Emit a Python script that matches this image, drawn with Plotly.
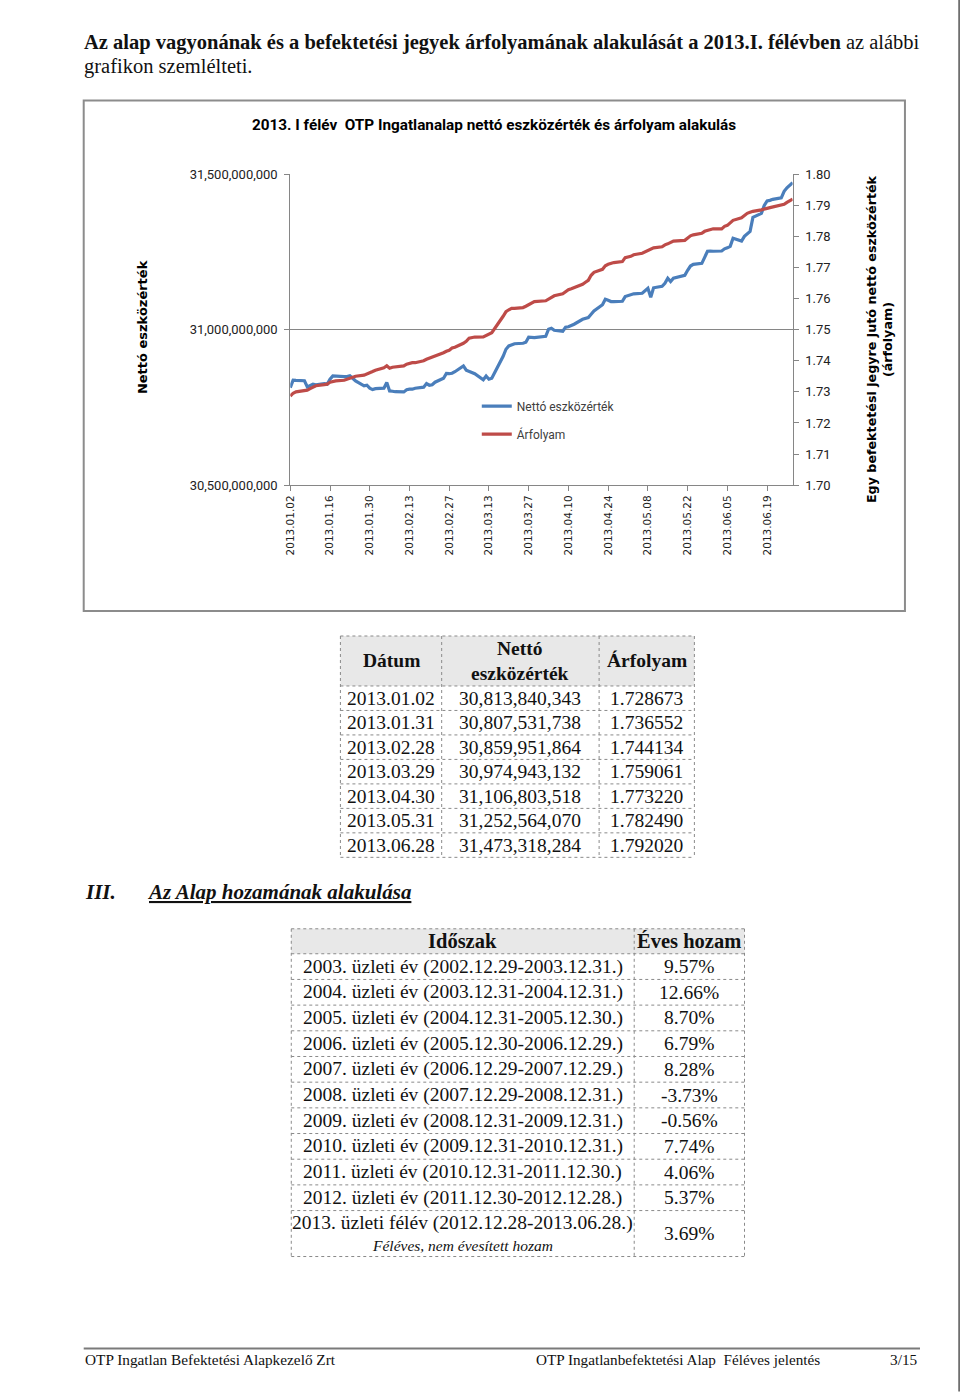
import plotly.graph_objects as go

W, H = 960, 1393

# ---------------- data ----------------
dates = [
    "2013-01-02", "2013-01-03", "2013-01-04", "2013-01-07", "2013-01-08", "2013-01-09", "2013-01-10", "2013-01-11",
    "2013-01-14", "2013-01-15", "2013-01-16", "2013-01-17", "2013-01-18", "2013-01-21", "2013-01-22", "2013-01-23",
    "2013-01-24", "2013-01-25", "2013-01-28", "2013-01-29", "2013-01-30", "2013-01-31",
    "2013-02-01", "2013-02-04", "2013-02-05", "2013-02-06", "2013-02-07", "2013-02-08", "2013-02-11", "2013-02-12",
    "2013-02-13", "2013-02-14", "2013-02-15", "2013-02-18", "2013-02-19", "2013-02-20", "2013-02-21", "2013-02-22",
    "2013-02-25", "2013-02-26", "2013-02-27", "2013-02-28",
    "2013-03-01", "2013-03-04", "2013-03-05", "2013-03-06", "2013-03-07", "2013-03-08", "2013-03-11", "2013-03-12",
    "2013-03-13", "2013-03-14", "2013-03-18", "2013-03-19", "2013-03-20", "2013-03-21", "2013-03-22", "2013-03-25",
    "2013-03-26", "2013-03-27", "2013-03-28", "2013-03-29",
    "2013-04-02", "2013-04-03", "2013-04-04", "2013-04-05", "2013-04-08", "2013-04-09", "2013-04-10", "2013-04-11",
    "2013-04-12", "2013-04-15", "2013-04-16", "2013-04-17", "2013-04-18", "2013-04-19", "2013-04-22", "2013-04-23",
    "2013-04-24", "2013-04-25", "2013-04-26", "2013-04-29", "2013-04-30",
    "2013-05-02", "2013-05-03", "2013-05-06", "2013-05-07", "2013-05-08", "2013-05-09", "2013-05-10", "2013-05-13",
    "2013-05-14", "2013-05-15", "2013-05-16", "2013-05-17", "2013-05-21", "2013-05-22", "2013-05-23", "2013-05-24",
    "2013-05-27", "2013-05-28", "2013-05-29", "2013-05-30", "2013-05-31",
    "2013-06-03", "2013-06-04", "2013-06-05", "2013-06-06", "2013-06-07", "2013-06-10", "2013-06-11", "2013-06-12",
    "2013-06-13", "2013-06-14", "2013-06-17", "2013-06-18", "2013-06-19", "2013-06-20", "2013-06-21", "2013-06-24",
    "2013-06-25", "2013-06-26", "2013-06-27", "2013-06-28",
]

# Nettó eszközérték, million HUF
nav_million = [
    30813.8, 30837.6, 30837.0, 30836.0, 30816.1, 30819.9, 30824.8, 30823.1,
    30826.4, 30824.8, 30840.8, 30851.4, 30850.5, 30848.9, 30849.5, 30852.1,
    30844.0, 30835.4, 30819.3, 30821.5, 30811.9, 30807.5,
    30810.3, 30811.9, 30830.2, 30803.2, 30802.2, 30800.6, 30800.0, 30807.1,
    30808.7, 30808.7, 30811.9, 30815.1, 30827.0, 30821.5, 30823.1, 30831.2,
    30844.0, 30859.2, 30858.5, 30860.0,
    30865.0, 30883.6, 30869.8, 30865.6, 30863.3, 30858.5, 30839.2, 30851.4,
    30840.8, 30844.0, 30914.8, 30937.3, 30947.9, 30951.8, 30955.0, 30956.6,
    30959.8, 30975.9, 30975.9, 30974.9,
    30979.1, 31001.6, 31004.8, 30998.4, 30995.2, 31008.0, 31009.6, 31012.9,
    31017.7, 31033.8, 31037.0, 31039.2, 31049.8, 31060.4, 31080.4, 31098.1,
    31094.8, 31090.7, 31090.7, 31091.6, 31106.8,
    31114.1, 31115.7, 31117.4, 31127.0, 31133.4, 31104.5, 31135.0, 31139.9,
    31149.5, 31165.6, 31155.0, 31165.6, 31175.2, 31191.3, 31205.1, 31210.6,
    31213.8, 31233.1, 31252.4, 31253.4, 31252.6,
    31253.4, 31260.4, 31263.7, 31268.5, 31294.2, 31285.5, 31300.6, 31307.1,
    31316.7, 31361.7, 31374.6, 31400.3, 31414.8, 31416.4, 31419.6, 31424.4,
    31445.3, 31456.6, 31464.6, 31473.3,
]

# Árfolyam
price = [
    1.72867, 1.72958, 1.73000, 1.73032, 1.73055, 1.73103, 1.73151, 1.73199,
    1.73232, 1.73248, 1.73312, 1.73344, 1.73354, 1.73376, 1.73408, 1.73463,
    1.73489, 1.73505, 1.73537, 1.73585, 1.73624, 1.73655,
    1.73698, 1.73778, 1.73842, 1.73762, 1.73794, 1.73810, 1.73836, 1.73891,
    1.73923, 1.73939, 1.73939, 1.74003, 1.74051, 1.74084, 1.74116, 1.74148,
    1.74260, 1.74309, 1.74341, 1.74413,
    1.74437, 1.74566, 1.74630, 1.74727, 1.74759, 1.74765, 1.74768, 1.74823,
    1.74855, 1.74903, 1.75434, 1.75585, 1.75643, 1.75691, 1.75691, 1.75714,
    1.75756, 1.75804, 1.75852, 1.75906,
    1.75932, 1.75981, 1.76045, 1.76093, 1.76158, 1.76238, 1.76286, 1.76318,
    1.76350, 1.76463, 1.76527, 1.76592, 1.76752, 1.76849, 1.76945, 1.77058,
    1.77106, 1.77138, 1.77161, 1.77193, 1.77322,
    1.77363, 1.77412, 1.77460, 1.77508, 1.77556, 1.77588, 1.77637, 1.77669,
    1.77733, 1.77765, 1.77813, 1.77855, 1.77878, 1.77958, 1.78022, 1.78055,
    1.78103, 1.78167, 1.78199, 1.78215, 1.78249,
    1.78247, 1.78328, 1.78360, 1.78457, 1.78521, 1.78601, 1.78682, 1.78746,
    1.78778, 1.78810, 1.78858, 1.78891, 1.78907, 1.78929, 1.78955, 1.79019,
    1.79035, 1.79100, 1.79148, 1.79202,
]

tick_dates = ["2013-01-02", "2013-01-16", "2013-01-30", "2013-02-13", "2013-02-27", "2013-03-13", "2013-03-27",
              "2013-04-10", "2013-04-24", "2013-05-08", "2013-05-22", "2013-06-05", "2013-06-19"]
tick_labels = ["2013.01.02", "2013.01.16", "2013.01.30", "2013.02.13", "2013.02.27", "2013.03.13", "2013.03.27",
               "2013.04.10", "2013.04.24", "2013.05.08", "2013.05.22", "2013.06.05", "2013.06.19"]
nav_ticks = [30_500_000_000, 31_000_000_000, 31_500_000_000]

# table 1
t1_header = ["Dátum", "Nettó<br>eszközérték", "Árfolyam"]
t1_dates = ["2013.01.02", "2013.01.31", "2013.02.28", "2013.03.29", "2013.04.30", "2013.05.31", "2013.06.28"]
t1_nav = ["30,813,840,343", "30,807,531,738", "30,859,951,864", "30,974,943,132",
          "31,106,803,518", "31,252,564,070", "31,473,318,284"]
t1_price = ["1.728673", "1.736552", "1.744134", "1.759061", "1.773220", "1.782490", "1.792020"]

# table 2
t2_header = ["Időszak", "Éves hozam"]
t2_period = [
    "2003. üzleti év (2002.12.29-2003.12.31.)",
    "2004. üzleti év (2003.12.31-2004.12.31.)",
    "2005. üzleti év (2004.12.31-2005.12.30.)",
    "2006. üzleti év (2005.12.30-2006.12.29.)",
    "2007. üzleti év (2006.12.29-2007.12.29.)",
    "2008. üzleti év (2007.12.29-2008.12.31.)",
    "2009. üzleti év (2008.12.31-2009.12.31.)",
    "2010. üzleti év (2009.12.31-2010.12.31.)",
    "2011. üzleti év (2010.12.31-2011.12.30.)",
    "2012. üzleti év (2011.12.30-2012.12.28.)",
    "2013. üzleti félév (2012.12.28-2013.06.28.)",
]
t2_note = "Féléves, nem évesített hozam"
t2_return = ["9.57%", "12.66%", "8.70%", "6.79%", "8.28%", "-3.73%", "-0.56%", "7.74%", "4.06%", "5.37%", "3.69%"]

# ---------------- styling / layout constants ----------------
BLUE = "#4A7EBB"
RED = "#BE4B48"
AXIS = "#868686"
SERIF = "Liberation Serif"
TXT = "#111111"

# the capture insets the page slightly; page positions below are given in
# picture pixels and converted with this small correction
OX, OY, S = 7.5, 7.5, 0.99

def px(x):
    return ((x - OX) / S) / W

def py(y):
    return 1 - ((y - OY) / S) / H

fig = go.Figure()

nav_values = [v * 1e6 for v in nav_million]
fig.add_trace(go.Scatter(x=dates, y=nav_values, name="Nettó eszközérték", mode="lines",
                         line=dict(color=BLUE, width=3.2), legendgroup="a", yaxis="y"))
fig.add_trace(go.Scatter(x=dates, y=price, name="Árfolyam", mode="lines",
                         line=dict(color=RED, width=3.2), legendgroup="b", yaxis="y2"))

shapes = []
annotations = []

def ann(x, y, text, size, family=SERIF, xanchor="left", color=TXT, angle=0, yanchor="middle", **kw):
    annotations.append(dict(x=px(x), y=py(y), xref="paper", yref="paper", text=text, showarrow=False,
                            xanchor=xanchor, yanchor=yanchor, textangle=angle,
                            font=dict(family=family, size=size, color=color), **kw))

def hline(x0, x1, y, color="#8a8a8a", width=1, dash="dot"):
    shapes.append(dict(type="line", xref="paper", yref="paper", x0=px(x0), x1=px(x1), y0=py(y), y1=py(y),
                       line=dict(color=color, width=width, dash=dash)))

def vline(x, y0, y1, color="#8a8a8a", width=1, dash="dot"):
    shapes.append(dict(type="line", xref="paper", yref="paper", x0=px(x), x1=px(x), y0=py(y0), y1=py(y1),
                       line=dict(color=color, width=width, dash=dash)))

def rect(x0, y0, x1, y1, fill=None, line=None, lw=0):
    shapes.append(dict(type="rect", xref="paper", yref="paper", x0=px(x0), x1=px(x1), y0=py(y0), y1=py(y1),
                       fillcolor=fill if fill else "rgba(0,0,0,0)",
                       line=dict(color=line if line else "rgba(0,0,0,0)", width=lw), layer="below"))

# page header text
ann(82, 43, "<b>Az alap vagyonának és a befektetési jegyek árfolyamának alakulását a 2013.I. félévben</b> az alábbi", 20.5)
ann(82, 67, "grafikon szemlélteti.", 20.5)

# chart frame
shapes.append(dict(type="rect", xref="paper", yref="paper", x0=px(84), x1=px(903), y0=py(101), y1=py(612),
                   line=dict(color="#8c8c8c", width=2), fillcolor="rgba(0,0,0,0)"))

# chart title and axis titles
ann(493, 126, "<b>2013. I félév\u00a0 OTP Ingatlanalap nettó eszközérték és árfolyam alakulás</b>", 15.3,
    family="Roboto", xanchor="center", color="#000000")
ann(142, 328, "<b>Nettó eszközérték</b>", 13, family="DejaVu Sans", xanchor="center", angle=-90, color="#000000")
ann(878, 340, "<b>Egy befektetési jegyre jutó nettó eszközérték<br>(árfolyam)</b>", 12.7, family="DejaVu Sans",
    xanchor="center", angle=-90, color="#000000")

# ---- table 1 ----
t1_cols = [340, 441, 598, 693]
t1_top, t1_head_h, t1_row_h = 637, 50, 24.5
t1_bottom = t1_top + t1_head_h + t1_row_h * len(t1_dates)
rect(t1_cols[0], t1_top, t1_cols[-1], t1_top + t1_head_h, fill="#e8e8e8")
for i in range(len(t1_dates) + 1):
    yy = t1_top + t1_head_h + i * t1_row_h
    hline(t1_cols[0], t1_cols[-1], yy)
hline(t1_cols[0], t1_cols[-1], t1_top)
for c in t1_cols:
    vline(c, t1_top, t1_bottom)
for j, h in enumerate(t1_header):
    cx = (t1_cols[j] + t1_cols[j + 1]) / 2
    ann(cx, t1_top + t1_head_h / 2, "<b>" + h.replace("<br>", "</b><br><b>") + "</b>", 19.5,
        xanchor="center")
for i in range(len(t1_dates)):
    cy = t1_top + t1_head_h + (i + 0.5) * t1_row_h
    for j, v in enumerate([t1_dates[i], t1_nav[i], t1_price[i]]):
        cx = (t1_cols[j] + t1_cols[j + 1]) / 2
        ann(cx, cy, v, 19.5, xanchor="center")

# section heading
ann(83, 893, "<b><i>III.</i></b>", 21)
ann(145, 893, "<b><i><u>Az Alap hozamának alakulása</u></i></b>", 21)

# ---- table 2 ----
t2_cols = [291, 633, 743]
t2_top, t2_head_h, t2_row_h, t2_last_h = 930, 25, 25.7, 46
n_reg = len(t2_period) - 1
t2_bottom = t2_top + t2_head_h + n_reg * t2_row_h + t2_last_h
rect(t2_cols[0], t2_top, t2_cols[-1], t2_top + t2_head_h, fill="#e8e8e8")
hline(t2_cols[0], t2_cols[-1], t2_top)
for i in range(n_reg + 1):
    hline(t2_cols[0], t2_cols[-1], t2_top + t2_head_h + i * t2_row_h)
hline(t2_cols[0], t2_cols[-1], t2_bottom)
for c in t2_cols:
    vline(c, t2_top, t2_bottom)
for j, h in enumerate(t2_header):
    cx = (t2_cols[j] + t2_cols[j + 1]) / 2
    ann(cx, t2_top + t2_head_h / 2, "<b>" + h + "</b>", 20.5, xanchor="center")
for i in range(len(t2_period)):
    c0 = (t2_cols[0] + t2_cols[1]) / 2
    c1 = (t2_cols[1] + t2_cols[2]) / 2
    if i < n_reg:
        cy = t2_top + t2_head_h + (i + 0.5) * t2_row_h
        ann(c0, cy, t2_period[i], 19.5, xanchor="center")
        ann(c1, cy, t2_return[i], 19.5, xanchor="center")
    else:
        ytop = t2_top + t2_head_h + n_reg * t2_row_h
        ann(c0, ytop + 12, t2_period[i], 19.5, xanchor="center")
        ann(c0, ytop + 35, "<i>" + t2_note + "</i>", 15.5, xanchor="center")
        ann(c1, ytop + t2_last_h / 2, t2_return[i], 19.5, xanchor="center")

# footer
hline(84, 918, 1350, color="#7a7a7a", width=2, dash="solid")
ann(83, 1361, "OTP Ingatlan Befektetési Alapkezelő Zrt", 15.3)
ann(533, 1361, "OTP Ingatlanbefektetési Alap\u00a0 Féléves jelentés", 15.2)
ann(918, 1361, "3/15", 15.3, xanchor="right")

# right page edge
vline(957, 0, 1393, color="#555555", width=1.5, dash="solid")

fig.update_layout(
    width=W, height=H, autosize=False,
    margin=dict(l=0, r=0, t=0, b=0, pad=0),
    paper_bgcolor="white", plot_bgcolor="white",
    showlegend=True,
    legend=dict(x=px(476), y=py(392.5), xanchor="left", yanchor="top", bgcolor="rgba(0,0,0,0)",
                font=dict(family="Roboto", size=12, color="#404040"), tracegroupgap=9, borderwidth=0),
    xaxis=dict(domain=[px(290), px(791)], anchor="y", type="date",
               range=["2013-01-02", "2013-06-28"],
               tickmode="array", tickvals=tick_dates, ticktext=tick_labels, tickangle=-90,
               ticks="outside", ticklen=5, tickcolor=AXIS, showline=True, linecolor=AXIS, linewidth=1,
               showgrid=False, zeroline=False,
               tickfont=dict(family="DejaVu Sans", size=10.5, color="#222222")),
    yaxis=dict(domain=[py(486), py(175)], anchor="x", range=[30.5e9, 31.5e9],
               tickmode="array", tickvals=nav_ticks, tickformat=",.0f",
               ticks="outside", ticklen=5, tickcolor=AXIS, showline=True, linecolor=AXIS, linewidth=1,
               showgrid=True, gridcolor=AXIS, gridwidth=1, zeroline=False, ticklabelstandoff=4,
               tickfont=dict(family="Roboto", size=13, color="#222222")),
    yaxis2=dict(overlaying="y", side="right", anchor="x", range=[1.70, 1.80], dtick=0.01, tick0=1.70,
                tickformat=".2f", ticks="outside", ticklen=5, tickcolor=AXIS, showline=True, linecolor=AXIS,
                linewidth=1, showgrid=False, zeroline=False, ticklabelstandoff=4,
                tickfont=dict(family="Roboto", size=13, color="#222222")),
    shapes=shapes,
    annotations=annotations,
)

fig.write_html(
    "out.html",
    config={"displayModeBar": False},
    post_script="document.body.style.margin='0';document.documentElement.style.overflow='hidden';"
                "document.body.style.overflow='hidden';",
)
